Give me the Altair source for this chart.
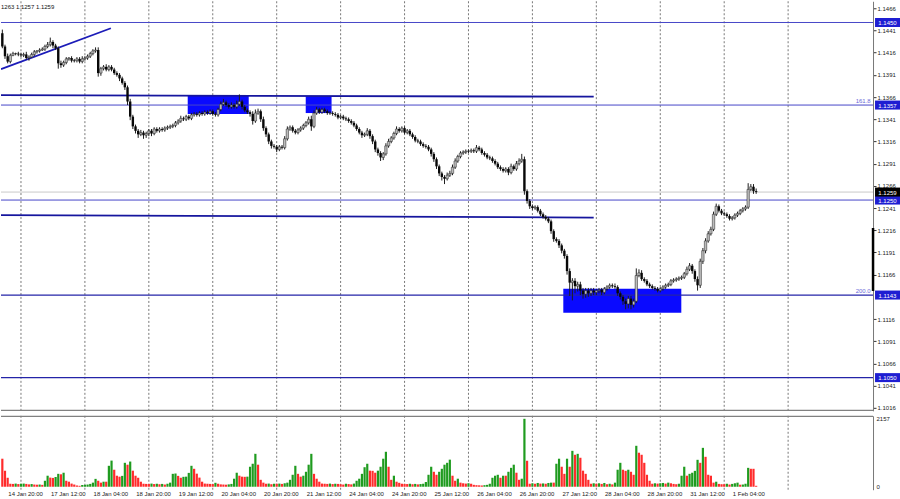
import altair as alt
import pandas as pd

# ---------------------------------------------------------------- data ----
# Hourly bars, EURUSD H1.  Bar index 0 = 17 Jan 00:00; the first bar shown
# is 14 Jan 17:00 (index -7).  Weekends are skipped, as on the terminal.
FIRST_INDEX = -7
first_open = 1.1438

closes_14jan = [1.1423, 1.1412, 1.1406, 1.1413, 1.1415, 1.1415, 1.1414]
closes_17jan = [1.1413, 1.1414, 1.1410, 1.1411, 1.1414, 1.1417, 1.1418, 1.1419,
                1.1420, 1.1423, 1.1425, 1.1428, 1.1424, 1.1421, 1.1404, 1.1402,
                1.1405, 1.1409, 1.1410, 1.1407, 1.1407, 1.1409, 1.1406, 1.1409]
closes_18jan = [1.1410, 1.1412, 1.1415, 1.1418, 1.1419, 1.1393, 1.1398, 1.1400,
                1.1397, 1.1400, 1.1397, 1.1393, 1.1391, 1.1387, 1.1382, 1.1377,
                1.1361, 1.1344, 1.1333, 1.1328, 1.1324, 1.1326, 1.1323, 1.1325]
closes_19jan = [1.1328, 1.1325, 1.1330, 1.1328, 1.1330, 1.1329, 1.1331, 1.1332,
                1.1333, 1.1334, 1.1337, 1.1339, 1.1342, 1.1341, 1.1344, 1.1342,
                1.1346, 1.1347, 1.1346, 1.1348, 1.1347, 1.1349, 1.1348, 1.1350]
closes_20jan = [1.1347, 1.1346, 1.1352, 1.1358, 1.1360, 1.1357, 1.1355, 1.1357,
                1.1355, 1.1358, 1.1361, 1.1355, 1.1351, 1.1349, 1.1347, 1.1339,
                1.1348, 1.1350, 1.1341, 1.1331, 1.1324, 1.1316, 1.1311, 1.1310]
closes_21jan = [1.1307, 1.1310, 1.1309, 1.1319, 1.1330, 1.1332, 1.1328, 1.1326,
                1.1329, 1.1331, 1.1334, 1.1337, 1.1341, 1.1333, 1.1348, 1.1352,
                1.1349, 1.1352, 1.1350, 1.1348, 1.1348, 1.1347, 1.1346, 1.1343]
closes_24jan = [1.1344, 1.1342, 1.1341, 1.1339, 1.1337, 1.1334, 1.1330, 1.1326,
                1.1323, 1.1324, 1.1328, 1.1322, 1.1316, 1.1307, 1.1303, 1.1298,
                1.1302, 1.1311, 1.1316, 1.1320, 1.1325, 1.1330, 1.1328, 1.1331]
closes_25jan = [1.1326, 1.1328, 1.1324, 1.1321, 1.1317, 1.1316, 1.1313, 1.1311,
                1.1310, 1.1307, 1.1302, 1.1296, 1.1288, 1.1280, 1.1276, 1.1274,
                1.1278, 1.1280, 1.1287, 1.1294, 1.1299, 1.1303, 1.1304, 1.1305]
closes_26jan = [1.1305, 1.1306, 1.1305, 1.1309, 1.1307, 1.1303, 1.1301, 1.1298,
                1.1297, 1.1294, 1.1291, 1.1287, 1.1285, 1.1283, 1.1285, 1.1281,
                1.1288, 1.1285, 1.1291, 1.1294, 1.1296, 1.1260, 1.1249, 1.1243]
closes_27jan = [1.1241, 1.1242, 1.1238, 1.1234, 1.1231, 1.1229, 1.1226, 1.1215,
                1.1206, 1.1204, 1.1199, 1.1193, 1.1187, 1.1170, 1.1157, 1.1159,
                1.1153, 1.1155, 1.1148, 1.1144, 1.1148, 1.1145, 1.1148, 1.1146]
closes_28jan = [1.1148, 1.1149, 1.1146, 1.1150, 1.1152, 1.1154, 1.1153, 1.1152,
                1.1145, 1.1141, 1.1136, 1.1133, 1.1139, 1.1132, 1.1136, 1.1165,
                1.1168, 1.1161, 1.1159, 1.1155, 1.1153, 1.1151, 1.1150, 1.1148]
closes_31jan = [1.1150, 1.1152, 1.1154, 1.1155, 1.1159, 1.1160, 1.1161, 1.1162,
                1.1163, 1.1167, 1.1172, 1.1176, 1.1170, 1.1161, 1.1154, 1.1181,
                1.1193, 1.1204, 1.1212, 1.1217, 1.1234, 1.1243, 1.1238, 1.1235]
closes_1feb = [1.1234, 1.1232, 1.1229, 1.1230, 1.1233, 1.1235, 1.1238, 1.1240,
               1.1242, 1.1262, 1.1265, 1.1260, 1.1259]

# wick lengths beyond the candle body, in pips
upper_wick_pips = (
    [4, 2, 3, 2, 2, 1, 2]
    + [2, 2, 3, 2, 2, 2, 1, 2, 2, 2, 3, 5, 2, 2, 2, 3, 2, 2, 1, 2, 2, 2, 2, 3]
    + [2, 2, 2, 2, 3, 3, 2, 2, 3, 2, 2, 2, 2, 2, 2, 2, 2, 3, 2, 2, 2, 3, 2, 2]
    + [2, 2, 2, 2, 2, 2, 2, 2, 2, 2, 2, 2, 3, 2, 2, 2, 2, 2, 2, 2, 2, 2, 2, 2]
    + [2, 2, 2, 3, 4, 2, 2, 3, 2, 4, 8, 2, 2, 2, 2, 3, 4, 3, 2, 3, 2, 2, 2, 2]
    + [2, 2, 2, 3, 3, 2, 2, 2, 2, 2, 2, 2, 3, 4, 3, 3, 2, 2, 2, 2, 2, 2, 2, 2]
    + [2, 2, 2, 2, 2, 2, 2, 2, 2, 2, 3, 2, 2, 2, 2, 2, 2, 3, 3, 2, 2, 3, 2, 2]
    + [2, 2, 2, 2, 2, 2, 2, 2, 2, 2, 2, 2, 2, 2, 2, 2, 3, 3, 3, 3, 2, 2, 2, 2]
    + [2, 2, 2, 3, 2, 2, 2, 2, 2, 2, 2, 2, 2, 2, 2, 2, 3, 2, 3, 3, 6, 3, 2, 2]
    + [2, 2, 2, 2, 2, 2, 2, 2, 2, 2, 2, 2, 2, 2, 3, 3, 3, 3, 3, 3, 3, 3, 3, 3]
    + [2, 2, 2, 2, 2, 2, 2, 3, 2, 2, 2, 3, 3, 3, 3, 8, 4, 3, 2, 2, 2, 2, 2, 2]
    + [2, 2, 2, 2, 2, 2, 2, 2, 2, 2, 3, 3, 2, 2, 3, 3, 3, 3, 3, 3, 3, 3, 2, 2]
    + [2, 2, 2, 2, 2, 2, 2, 2, 2, 7, 3, 3, 3]
)
lower_wick_pips = (
    [2, 3, 2, 2, 1, 2, 2]
    + [2, 2, 2, 3, 1, 2, 2, 2, 1, 2, 2, 2, 3, 2, 6, 3, 2, 2, 2, 2, 2, 2, 2, 2]
    + [2, 2, 2, 2, 2, 4, 3, 2, 2, 2, 2, 2, 2, 3, 2, 3, 4, 4, 3, 3, 4, 2, 4, 3]
    + [3, 3, 2, 2, 2, 2, 2, 2, 2, 2, 2, 2, 2, 2, 2, 2, 2, 2, 2, 2, 2, 2, 2, 2]
    + [2, 2, 2, 2, 2, 2, 2, 2, 2, 2, 2, 3, 2, 2, 3, 4, 2, 2, 3, 3, 3, 3, 3, 2]
    + [3, 2, 2, 2, 2, 2, 2, 2, 2, 2, 2, 2, 2, 5, 2, 2, 2, 2, 2, 2, 2, 2, 2, 2]
    + [2, 2, 2, 2, 2, 2, 2, 2, 3, 2, 2, 3, 3, 3, 3, 4, 3, 2, 2, 2, 2, 2, 2, 2]
    + [2, 2, 2, 2, 2, 2, 2, 2, 2, 2, 3, 3, 3, 3, 4, 6, 2, 2, 2, 2, 2, 2, 2, 2]
    + [2, 2, 2, 2, 2, 2, 2, 2, 2, 2, 2, 2, 2, 2, 2, 3, 2, 2, 2, 2, 2, 4, 3, 3]
    + [2, 2, 2, 2, 2, 2, 2, 3, 3, 2, 3, 3, 3, 4, 15, 20, 8, 6, 5, 5, 4, 4, 3, 3]
    + [3, 3, 3, 2, 2, 2, 2, 2, 3, 3, 4, 6, 5, 5, 3, 2, 2, 2, 2, 2, 2, 2, 2, 2]
    + [2, 2, 2, 2, 2, 2, 2, 2, 2, 2, 2, 2, 3, 3, 6, 3, 3, 3, 2, 2, 2, 2, 2, 2]
    + [2, 2, 2, 2, 2, 2, 2, 2, 2, 2, 2, 3, 2]
)

# tick volume per hour
volumes = (
    [890, 510, 285, 95, 90, 100, 85]
    + [95, 100, 90, 75, 85, 70, 65, 70, 60, 190, 350, 290, 280, 310, 410, 395,
       445, 190, 160, 100, 70, 40, 30, 55]
    + [60, 70, 90, 130, 250, 190, 130, 160, 160, 665, 830, 540, 350, 320, 345, 760,
       700, 800, 510, 350, 285, 160, 95, 90]
    + [90, 100, 85, 95, 80, 90, 70, 95, 130, 410, 420, 345, 285, 315, 320, 440,
       665, 570, 415, 290, 160, 100, 95, 90]
    + [85, 125, 95, 75, 70, 65, 75, 90, 255, 445, 350, 320, 315, 320, 635, 730,
       1045, 700, 220, 130, 95, 100, 80, 95]
    + [95, 100, 90, 110, 130, 220, 380, 665, 410, 320, 350, 475, 700, 1045, 410, 255,
       160, 100, 95, 90, 100, 85, 95, 90]
    + [80, 70, 95, 85, 75, 100, 190, 255, 410, 620, 730, 510, 505, 445, 510, 635,
       890, 1110, 635, 220, 350, 160, 125, 95]
    + [90, 85, 95, 80, 90, 75, 85, 95, 150, 380, 635, 475, 380, 475, 570, 700,
       760, 860, 350, 190, 255, 130, 110, 100]
    + [110, 95, 60, 50, 45, 40, 50, 60, 95, 285, 350, 380, 285, 350, 350, 475,
       600, 700, 445, 220, 255, 2157, 825, 95]
    + [110, 95, 120, 100, 105, 95, 120, 130, 130, 730, 890, 635, 410, 890, 635, 1140,
       1015, 1045, 920, 510, 410, 220, 95, 110]
    + [95, 110, 90, 120, 80, 95, 75, 130, 540, 760, 540, 505, 540, 475, 380, 1300,
       1080, 1015, 760, 380, 190, 95, 110, 100]
    + [110, 120, 100, 130, 110, 90, 80, 95, 350, 635, 350, 410, 445, 505, 855, 760,
       1235, 950, 380, 350, 130, 160, 90, 80]
    + [80, 95, 70, 90, 110, 130, 65, 70, 95, 600, 570, 570, 30]
)

# time-scale labels and the bar index each one belongs to
time_labels = ["14 Jan 20:00", "17 Jan 12:00", "18 Jan 04:00", "18 Jan 20:00",
               "19 Jan 12:00", "20 Jan 04:00", "20 Jan 20:00", "21 Jan 12:00",
               "24 Jan 04:00", "24 Jan 20:00", "25 Jan 12:00", "26 Jan 04:00",
               "26 Jan 20:00", "27 Jan 12:00", "28 Jan 04:00", "28 Jan 20:00",
               "31 Jan 12:00", "1 Feb 04:00"]
time_label_index = [-4, 12, 28, 44, 60, 76, 92, 108, 124, 140, 156, 172,
                    188, 204, 220, 236, 252, 268]
day_start_index = [0, 24, 48, 72, 96, 120, 144, 168, 192, 216, 240, 264, 288]

# price-scale labels (1.1141 sits under the 1.1143 level tag and is not shown)
price_ticks = [1.1016, 1.1041, 1.1066, 1.1091, 1.1116, 1.1166, 1.1191,
               1.1216, 1.1241, 1.1266, 1.1291, 1.1316, 1.1341, 1.1366, 1.1391,
               1.1416, 1.1441, 1.1466]

# horizontal levels
thin_levels = [1.1450, 1.1357, 1.1250]
bold_levels = [1.1143, 1.1050]
bid_price = 1.1259
fib_labels = ["161.8", "200.0"]
fib_prices = [1.1357, 1.1143]
fib_label_index = 319

# trend lines: (start index, start price, end index, end price)
trend_up = [(-7.5, 1.13974, 33.75, 1.14435)]
trend_flat = [(-7.5, 1.13681, 215.0, 1.13664), (-7.5, 1.12331, 215.0, 1.12303)]

# rectangles: (from index, to index, top price, bottom price)
zones = [(62.6, 85.5, 1.1368, 1.1347), (106.9, 116.6, 1.1367, 1.1348),
         (203.6, 247.9, 1.1150, 1.1123)]

# axis slider on the price scale
scale_marker = (1.12185, 1.11476)

header_text = "1263 1.1257 1.1259"

# ------------------------------------------------------------ tables ----
closes = (closes_14jan + closes_17jan + closes_18jan + closes_19jan + closes_20jan
          + closes_21jan + closes_24jan + closes_25jan + closes_26jan + closes_27jan
          + closes_28jan + closes_31jan + closes_1feb)
n = len(closes)
idx = list(range(FIRST_INDEX, FIRST_INDEX + n))
opens = [first_open] + closes[:-1]          # each hour opens at the prior close
highs = [max(o, c) + u * 0.0001 for o, c, u in zip(opens, closes, upper_wick_pips)]
lows = [min(o, c) - d * 0.0001 for o, c, d in zip(opens, closes, lower_wick_pips)]
direction = ["bull" if c >= o else "bear" for o, c in zip(opens, closes)]
vol_dir = ["vol_down"] + ["vol_up" if volumes[i] > volumes[i - 1] else "vol_down"
                          for i in range(1, n)]

bars = pd.DataFrame({"idx": idx, "open": opens, "high": highs, "low": lows,
                     "close": closes, "dir": direction,
                     "volume": volumes, "vdir": vol_dir})
days = pd.DataFrame({"idx": day_start_index})
tlabels = pd.DataFrame({"idx": time_label_index, "label": time_labels})
zones_df = pd.DataFrame(zones, columns=["x0", "x1", "top", "bottom"])
up_df = pd.DataFrame(trend_up, columns=["x0", "p0", "x1", "p1"])
flat_df = pd.DataFrame(trend_flat, columns=["x0", "p0", "x1", "p1"])
thin_df = pd.DataFrame({"price": thin_levels})
bold_df = pd.DataFrame({"price": bold_levels})
bid_df = pd.DataFrame({"price": [bid_price]})
fib_df = pd.DataFrame({"idx": [fib_label_index] * len(fib_labels),
                       "price": fib_prices, "label": fib_labels})
level_tags = pd.DataFrame({"price": thin_levels + bold_levels})
marker_df = pd.DataFrame({"p0": [scale_marker[0]], "p1": [scale_marker[1]]})

# ------------------------------------------------------------ styling ----
FONT = "Liberation Sans"
PLOT_W = 873
PRICE_H = 410
VOL_H = 74
TAG_X = 887.5

x_scale = alt.Scale(domain=[-7.5, 319.875], nice=False, zero=False, padding=0)
p_scale = alt.Scale(domain=[1.10126, 1.14739], nice=False, zero=False, padding=0)
v_scale = alt.Scale(domain=[-95, 2252], nice=False, zero=False, padding=0)

p_axis = alt.Axis(orient="right", values=price_ticks, format=".4f", title=None,
                  labelFont=FONT, labelFontSize=6, labelColor="#222",
                  tickSize=3, tickColor="#333", tickWidth=1, labelPadding=1,
                  domainColor="#777", domainWidth=1, grid=False,
                  labelOverlap=False, labelBound=False, labelFlush=False)
v_axis = alt.Axis(orient="right", values=[0, 2157], format="d", title=None,
                  labelFont=FONT, labelFontSize=6, labelColor="#222",
                  ticks=False, labelPadding=3, domainColor="#777", domainWidth=1,
                  grid=False, labelOverlap=False, labelBound=False, labelFlush=False)


def X(field):
    return alt.X(field, scale=x_scale, axis=None)


def P(field):
    return alt.Y(field, scale=p_scale, axis=p_axis)


# ------------------------------------------------------- price panel ----
grid_p = alt.Chart(days).mark_rule(color="#555", strokeWidth=0.8, strokeDash=[2, 2]).encode(
    x=X("idx:Q"))

zone_layer = alt.Chart(zones_df).mark_rect(color="#0a0aff").encode(
    x=X("x0:Q"), x2="x1:Q", y=P("top:Q"), y2="bottom:Q")

bid_line = alt.Chart(bid_df).mark_rule(color="#c9c9c9", strokeWidth=1).encode(y=P("price:Q"))
thin_lines = alt.Chart(thin_df).mark_rule(color="#4646c8", strokeWidth=1).encode(y=P("price:Q"))
bold_lines = alt.Chart(bold_df).mark_rule(color="#2424a8", strokeWidth=1.3).encode(y=P("price:Q"))

flat_lines = alt.Chart(flat_df).mark_rule(color="#16169e", strokeWidth=1.8, clip=True).encode(
    x=X("x0:Q"), x2="x1:Q", y=P("p0:Q"), y2="p1:Q")
up_line = alt.Chart(up_df).mark_rule(color="#1c1cb8", strokeWidth=1.8, clip=True).encode(
    x=X("x0:Q"), x2="x1:Q", y=P("p0:Q"), y2="p1:Q")

wicks = alt.Chart(bars).mark_rule(color="#1e1e1e", strokeWidth=1).encode(
    x=X("idx:Q"), y=P("low:Q"), y2="high:Q")
bull_bodies = alt.Chart(bars).transform_filter(alt.datum.dir == "bull").mark_bar(
    size=2.4, color="#bcbcbc", stroke="#1e1e1e", strokeWidth=0.5).encode(
    x=X("idx:Q"), y=P("open:Q"), y2="close:Q")
bear_bodies = alt.Chart(bars).transform_filter(alt.datum.dir == "bear").mark_bar(
    size=2.4, color="#080808").encode(
    x=X("idx:Q"), y=P("open:Q"), y2="close:Q")

fib_text = alt.Chart(fib_df).mark_text(align="right", baseline="bottom", dy=-1,
                                       font=FONT, fontSize=6, color="#6a6ad8").encode(
    x=X("idx:Q"), y=P("price:Q"), text="label:N")

tag_shape = "M-1,-0.36L1,-0.36L1,0.36L-1,0.36Z"
level_boxes = alt.Chart(level_tags).mark_point(shape=tag_shape, filled=True, size=625,
                                               opacity=1, strokeWidth=0,
                                               color="#1e1ed2").encode(
    x=alt.value(TAG_X), y=P("price:Q"))
bid_box = alt.Chart(bid_df).mark_point(shape=tag_shape, filled=True, size=625,
                                       opacity=1, strokeWidth=0, color="#000000").encode(
    x=alt.value(TAG_X), y=P("price:Q"))
level_box_text = alt.Chart(level_tags).mark_text(font=FONT, fontSize=6, color="white",
                                                 align="center", baseline="middle",
                                                 dy=0.5).encode(
    x=alt.value(TAG_X), y=P("price:Q"), text=alt.Text("price:Q", format=".4f"))
bid_box_text = alt.Chart(bid_df).mark_text(font=FONT, fontSize=6, color="white",
                                           align="center", baseline="middle",
                                           dy=0.5).encode(
    x=alt.value(TAG_X), y=P("price:Q"), text=alt.Text("price:Q", format=".4f"))

marker = alt.Chart(marker_df).mark_rule(color="#000", strokeWidth=2.5).encode(
    x=alt.value(PLOT_W), y=P("p0:Q"), y2="p1:Q")

bottom_edge = alt.Chart(days.head(1)).mark_rule(color="#808080", strokeWidth=1.2).encode(
    y=alt.value(PRICE_H - 0.5))

header = alt.Chart(pd.DataFrame({"t": [header_text]})).mark_text(
    align="left", baseline="middle", font=FONT, fontSize=6, color="#111").encode(
    x=alt.value(0), y=alt.value(6), text="t:N")

price_panel = alt.layer(
    grid_p, zone_layer, bid_line, thin_lines, bold_lines, flat_lines, up_line,
    wicks, bull_bodies, bear_bodies, fib_text, marker, bottom_edge, header,
    level_boxes, bid_box, level_box_text, bid_box_text
).properties(width=PLOT_W, height=PRICE_H)

# ------------------------------------------------------ volume panel ----
grid_v = alt.Chart(days).mark_rule(color="#555", strokeWidth=0.8, strokeDash=[2, 2]).encode(
    x=X("idx:Q"))
top_edge = alt.Chart(days.head(1)).mark_rule(color="#808080", strokeWidth=1.2).encode(
    y=alt.value(0.5))
vol_bars = alt.Chart(bars).mark_bar(size=2.2).encode(
    x=X("idx:Q"),
    y=alt.Y("volume:Q", scale=v_scale, axis=v_axis),
    y2=alt.datum(0),
    color=alt.Color("vdir:N", scale=alt.Scale(domain=["vol_up", "vol_down"],
                                              range=["#1f9b1f", "#ff2b2b"]), legend=None))
time_text = alt.Chart(tlabels).mark_text(align="left", baseline="middle", dx=-2,
                                         font=FONT, fontSize=6, color="#222").encode(
    x=X("idx:Q"), y=alt.value(VOL_H + 4.5), text="label:N")

volume_panel = alt.layer(grid_v, top_edge, vol_bars, time_text).properties(
    width=PLOT_W, height=VOL_H)

chart = alt.vconcat(price_panel, volume_panel, spacing=3).resolve_scale(
    color="independent"
).properties(
    padding=0, background="white"
).configure_view(stroke=None)

chart.save("out.html", embed_options={"renderer": "svg", "actions": False})
